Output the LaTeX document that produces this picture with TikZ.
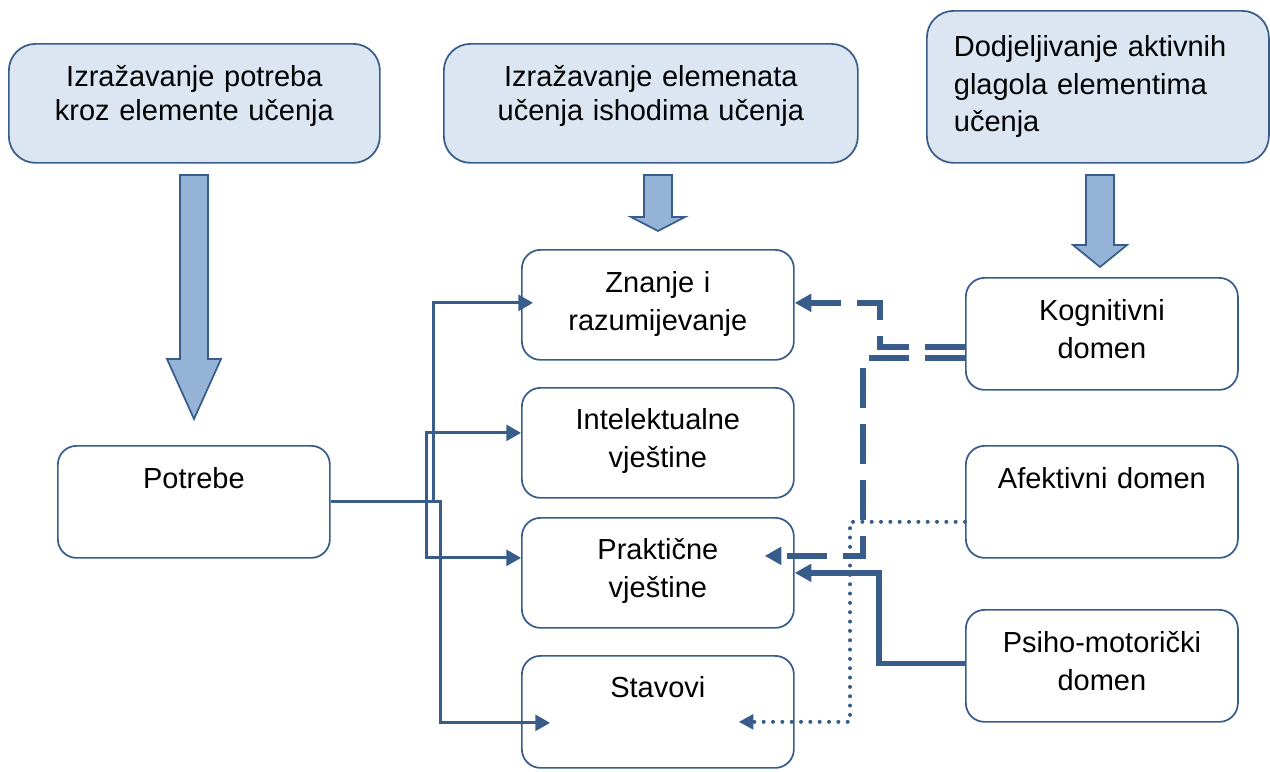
\documentclass[tikz,border=0pt]{standalone}
\usepackage{fontspec}
\setmainfont{Liberation Sans}
\usetikzlibrary{arrows.meta,positioning}
\definecolor{lineblue}{HTML}{385D8A}
\definecolor{topfill}{HTML}{DCE6F2}
\definecolor{arrowfill}{HTML}{95B3D7}

\begin{document}
\begin{tikzpicture}[
    x=0.75pt, y=-0.75pt,
    every node/.style={font=\fontsize{21.75pt}{28.5pt}\selectfont},
    box/.style={draw=lineblue, line width=1.3pt, rounded corners=14pt, anchor=north west, inner sep=0pt, text width=204pt, align=center, text height=32.25pt, text depth=51.75pt},
    topbox/.style={box, fill=topfill, rounded corners=20pt, text depth=57pt, font=\fontsize{21.75pt}{25.5pt}\selectfont},
    bigarrow/.style={draw=lineblue, fill=arrowfill, line width=1.3pt, line join=miter},
    link/.style={draw=lineblue, line width=2.1pt, -{Triangle[length=11pt,width=12pt]}},
    dashlink/.style={draw=lineblue, line width=4pt, dash pattern=on 30pt off 12pt, -{Triangle[length=12.5pt,width=13pt]}},
    solidlink/.style={draw=lineblue, line width=4pt, -{Triangle[length=12.5pt,width=13pt]}},
    dotlink/.style={draw=lineblue, line width=3pt, line cap=round, dash pattern=on 0pt off 7pt, -{Triangle[length=11pt,width=11pt]}}
]
    \useasboundingbox (0,0) rectangle (1270,771);

    % Top row
    \node[topbox, text width=278.25pt] (needs) at (8,43) {Izražavanje potreba\\kroz elemente učenja};
    \node[topbox, text width=310.5pt] (elements) at (443,43) {Izražavanje elemenata\\učenja ishodima učenja};
    \node[topbox, text width=216pt, inner xsep=20.25pt, align=left, text height=34.5pt, text depth=79.5pt,
          font=\fontsize{21.75pt}{28pt}\selectfont] (verbs) at (926,10) {Dodjeljivanje aktivnih\\glagola elementima\\učenja};

    % Block arrows
    \foreach \x/\h/\t in {194/359/419, 658/217/231, 1100/245/267}
        \draw[bigarrow] (\x-14,175) -- (\x+14,175) -- (\x+14,\h) -- (\x+27,\h) -- (\x,\t)
            -- (\x-27,\h) -- (\x-14,\h) -- cycle;

    % Needs
    \node[box] (pot) at (57,445) {Potrebe};

    % Learning elements
    \node[box, text depth=50.25pt] (zna) at (521,249) {Znanje i\\razumijevanje};
    \node[box, text height=31.5pt, text depth=51pt] (int) at (521,387) {Intelektualne\\vještine};
    \node[box, text height=31.5pt, text depth=51pt] (pra) at (521,517) {Praktične\\vještine};
    \node[box, text height=31.5pt, text depth=52.5pt] (sta) at (521,655) {Stavovi};

    % Domains
    \node[box] (kog) at (965,277) {Kognitivni\\domen};
    \node[box] (afe) at (965,445) {Afektivni domen};
    \node[box] (psi) at (965,609) {Psiho-motorički\\domen};

    % Needs to elements
    \draw[link] (pot.east) -- ++(103,0) |- ([xshift=9pt,yshift=1.5pt]zna.west);
    \draw[link] (pot.east) -- ++(96,0) |- ([yshift=7.5pt]int.west);
    \draw[link] (pot.east) -- ++(96,0) |- ([yshift=11.25pt]pra.west);
    \draw[link] (pot.east) -- ++(110,0) |- ([xshift=21.75pt,yshift=-8.25pt]sta.west);

    % Domains to elements
    \draw[dashlink] ([yshift=-9.75pt]kog.west) -- ++(-85,0) |- ([yshift=1.5pt]zna.east);
    \draw[dashlink] ([yshift=-18pt]kog.west) -- ++(-102,0) |- ([xshift=-22.5pt,yshift=12.75pt]pra.east);
    \draw[solidlink] ([yshift=2pt]psi.west) -- ++(-86,0) |- (pra.east);
    \draw[dotlink] ([yshift=-15pt]afe.west) -- ++(-115,0) |- ([xshift=-42pt,yshift=-7.5pt]sta.east);
\end{tikzpicture}
\end{document}
